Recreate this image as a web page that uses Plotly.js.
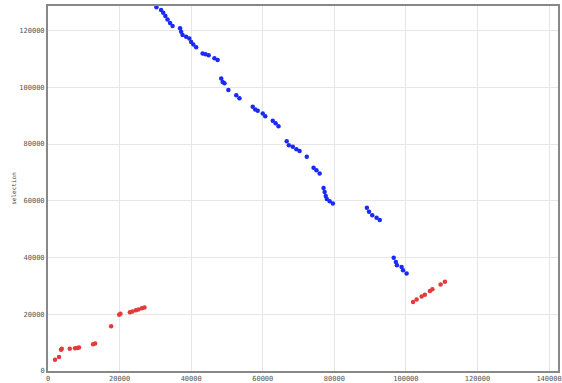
<!DOCTYPE html>
<html>
<head>
<meta charset="utf-8">
<script src="https://cdn.plot.ly/plotly-3.0.1.min.js"></script>
<style>html,body{margin:0;padding:0;background:#fff;}#chart{width:562px;height:383px;}</style>
</head>
<body>
<div id="chart"></div>
<script>
// Blue series (descending)
const blueX = [30300, 31600, 32200, 32800, 33400, 34100, 34800, 36900, 37200, 37600, 38600, 39500, 40000, 40600, 41400,
  43200, 44000, 44900, 46500, 47400, 48400, 48800, 49300, 50400, 52600, 53500, 57200, 57900, 58600, 60000, 60700,
  62800, 63600, 64400, 66700, 67300, 68400, 69400, 70300, 72300, 74200, 75000, 75900, 77000, 77300, 77600, 77900,
  78700, 79600, 89100, 89700, 90600, 91800, 92700, 96600, 97200, 97500, 98800, 99200, 100200];
const blueY = [128200, 127200, 126300, 125100, 123900, 122700, 121600, 120800, 119600, 118400, 117800, 117200, 116000, 115100, 114100,
  111900, 111600, 111300, 110200, 109600, 103100, 101900, 101400, 99000, 97200, 96100, 93100, 92200, 91700, 90800, 89800,
  88200, 87300, 86300, 81000, 79600, 79000, 78200, 77500, 75500, 71600, 70800, 69600, 64500, 63100, 61700, 60600,
  59800, 59000, 57500, 56100, 54900, 54000, 53200, 39900, 38400, 37300, 36700, 35500, 34400];
// Red series (ascending)
const redX = [1960, 3080, 3640, 3840, 6080, 7560, 8200, 8680, 12600, 13160, 17640, 19880, 20240, 22880, 23600, 24560, 25280, 26240, 26960,
  102000, 103000, 104400, 105300, 106700, 107400, 109700, 110900];
const redY = [4000, 4900, 7500, 7800, 7800, 8000, 8100, 8300, 9400, 9700, 15800, 19800, 20200, 20700, 21000, 21400, 21700, 22100, 22400,
  24300, 25200, 26300, 26900, 28200, 28800, 30500, 31500];
const tickVals = [0, 20000, 40000, 60000, 80000, 100000, 120000, 140000];
const tickText = ["0", "20000", "40000", "60000", "80000", "100000", "120000", "140000"];
const yTitle = "selection";

const traces = [
  {x: blueX, y: blueY, type: 'scatter', mode: 'markers', marker: {color: '#1a2af0', size: 4.5}, hoverinfo: 'x+y'},
  {x: redX, y: redY, type: 'scatter', mode: 'markers', marker: {color: '#e53a3a', size: 4.5}, hoverinfo: 'x+y'}
];
const axisFont = {family: 'DejaVu Sans Mono, monospace', size: 7, color: '#555'};
const layout = {
  width: 562, height: 383,
  margin: {l: 48, r: 4, t: 6, b: 12.3},
  paper_bgcolor: '#fff', plot_bgcolor: '#fff',
  showlegend: false,
  xaxis: {range: [0, 142500], tickvals: tickVals, ticktext: tickText, tickfont: axisFont,
    showgrid: true, gridcolor: '#e6e6e6', zeroline: false, showline: true, mirror: true,
    linecolor: '#888', linewidth: 2, ticks: '', ticklen: 0},
  yaxis: {range: [0, 128650], tickvals: tickVals.slice(0, 7), ticktext: tickText.slice(0, 7), tickfont: axisFont,
    showgrid: true, gridcolor: '#e6e6e6', zeroline: false, showline: true, mirror: true,
    linecolor: '#888', linewidth: 2, ticks: '', ticklen: 0,
    title: {text: yTitle, font: {family: 'DejaVu Sans Mono, monospace', size: 6, color: '#444'}, standoff: 2}}
};
Plotly.newPlot('chart', traces, layout, {displayModeBar: false, staticPlot: true});
</script>
</body>
</html>
